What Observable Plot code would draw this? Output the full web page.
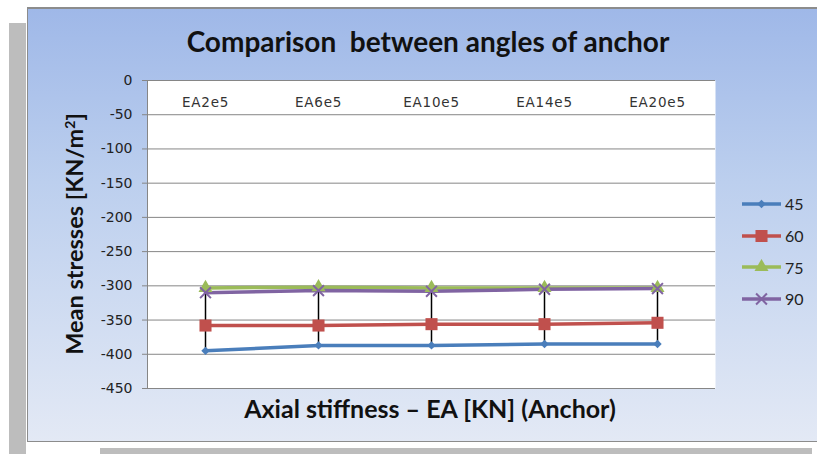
<!DOCTYPE html>
<html><head><meta charset="utf-8">
<script src="https://cdn.jsdelivr.net/npm/d3@7"></script>
<script src="https://cdn.jsdelivr.net/npm/@observablehq/plot@0.6"></script>
<style>
html,body{margin:0;padding:0;background:#fff;}
#wrap{position:relative;width:817px;height:454px;overflow:hidden;background:#fff;font-family:Lato,"Liberation Sans",sans-serif;}
#shadowL{position:absolute;left:9px;top:23px;width:17px;height:431px;background:#bdbdbd;}
#shadowB{position:absolute;left:100px;top:448px;width:712px;height:6px;background:#bdbdbd;}
#panel{position:absolute;left:27px;top:7px;width:800px;height:435px;border:1px solid #8c8c8c;border-top:2px solid #8c8c8c;box-sizing:border-box;
  background:linear-gradient(to bottom,#9fb8e8 0%,#bccfee 40%,#e3e9f5 100%);}
#chart{position:absolute;left:0;top:0;}
#chart g[aria-label="x-axis tick label"] text{letter-spacing:0.8px;}
.t{position:absolute;white-space:nowrap;color:#111;font-family:Lato,sans-serif;font-weight:bold;}
#title{left:0;width:856px;top:24px;text-align:center;font-size:28px;line-height:34px;}
#xtitle{left:0;width:860px;top:393px;text-align:center;font-size:25px;line-height:30px;}
#ytitle{left:72px;top:234px;transform:translate(-50%,-50%) rotate(-90deg);font-size:23.5px;line-height:28px;}
#legend{position:absolute;left:740px;top:188px;}
.li{display:flex;align-items:center;height:31.7px;font-family:Lato,sans-serif;font-size:16px;color:#222;}
.li svg{margin-right:3px;}
</style></head>
<body>
<div id="wrap">
  <div id="shadowL"></div>
  <div id="shadowB"></div>
  <div id="panel"></div>
  <div id="chart"></div>
  <div class="t" id="title">Comparison&nbsp; between angles of anchor</div>
  <div class="t" id="xtitle">Axial stiffness – EA [KN] (Anchor)</div>
  <div class="t" id="ytitle">Mean stresses [KN/m<sup style="font-size:14px">2</sup>]</div>
  <div id="legend"></div>
</div>
<script>
const categories = ["EA2e5", "EA6e5", "EA10e5", "EA14e5", "EA20e5"];
const seriesNames = ["45", "60", "75", "90"];
const s45 = [-395, -387, -387, -385, -385];
const s60 = [-358, -358, -356, -356, -354];
const s75 = [-303, -302, -303, -303, -303];
const s90 = [-310, -307, -308, -305, -304];
const yTicks = [0, -50, -100, -150, -200, -250, -300, -350, -400, -450];
const seriesColors = ["#4a7ebb", "#c0504d", "#9bbb59", "#8064a2"];
const seriesSymbols = ["diamond2", "square", "triangle", "times"];

const seriesValues = [s45, s60, s75, s90];
const data = [];
seriesNames.forEach((s, si) => categories.forEach((c, ci) => data.push({series: s, cat: c, value: seriesValues[si][ci]})));
const hilo = categories.map((c, ci) => ({cat: c, lo: d3.min(seriesValues, v => v[ci]), hi: d3.max(seriesValues, v => v[ci])}));

const dotR = {"45": 3.8, "60": 6.8, "75": 5.2, "90": 5};
const dotMarks = seriesNames.map((s, i) => {
  const sub = data.filter(d => d.series === s);
  const opts = {x: "cat", y: "value", symbol: () => seriesSymbols[i], r: dotR[s]};
  if (seriesSymbols[i] === "times") { opts.stroke = seriesColors[i]; opts.strokeWidth = 2; opts.fill = "none"; }
  else { opts.fill = seriesColors[i]; opts.stroke = "none"; }
  return Plot.dot(sub, opts);
});

const plot = Plot.plot({
  width: 817, height: 454,
  marginLeft: 147, marginRight: 102, marginTop: 80, marginBottom: 66,
  style: {background: "transparent", overflow: "visible"},
  x: {type: "point", domain: categories, padding: 0.5, axis: null},
  y: {domain: [-450, 0], axis: null},
  color: {domain: seriesNames, range: seriesColors},
  marks: [
    Plot.frame({fill: "white", stroke: "none"}),
    Plot.gridY(yTicks, {stroke: "#868686", strokeOpacity: 1, strokeWidth: 1}),
    Plot.frame({anchor: "left", stroke: "#868686"}),
    Plot.axisY(yTicks, {tickSize: 5, tickPadding: 10, stroke: "#868686", fill: "#222", fontSize: 14, fontFamily: "DejaVu Sans", label: null, tickFormat: d => String(d)}),
    Plot.axisX({anchor: "top", tickSize: 0, dy: 35, label: null, fontSize: 13.5, fill: "#333", fontFamily: "DejaVu Sans"}),
    Plot.line(data, {x: "cat", y: "value", z: "series", stroke: "series", strokeWidth: 3.5}),
    Plot.ruleX(hilo, {x: "cat", y1: "lo", y2: "hi", stroke: "black", strokeWidth: 1.5}),
    ...dotMarks
  ]
});
document.getElementById("chart").appendChild(plot);

// legend
const leg = d3.select("#legend");
seriesNames.forEach((s, i) => {
  const row = leg.append("div").attr("class", "li");
  const svg = row.append("svg").attr("width", 42).attr("height", 16);
  svg.append("line").attr("x1", 2).attr("x2", 41).attr("y1", 8).attr("y2", 8).attr("stroke", seriesColors[i]).attr("stroke-width", 3.5);
  const symType = {diamond2: d3.symbolDiamond2, square: d3.symbolSquare, triangle: d3.symbolTriangle, times: d3.symbolTimes}[seriesSymbols[i]];
  const r = dotR[s];
  const p = svg.append("path").attr("transform", "translate(21.5,8)").attr("d", d3.symbol(symType, Math.PI * r * r)());
  if (seriesSymbols[i] === "times") p.attr("fill", "none").attr("stroke", seriesColors[i]).attr("stroke-width", 2);
  else p.attr("fill", seriesColors[i]);
  row.append("span").text(s);
});
</script>
</body></html>
